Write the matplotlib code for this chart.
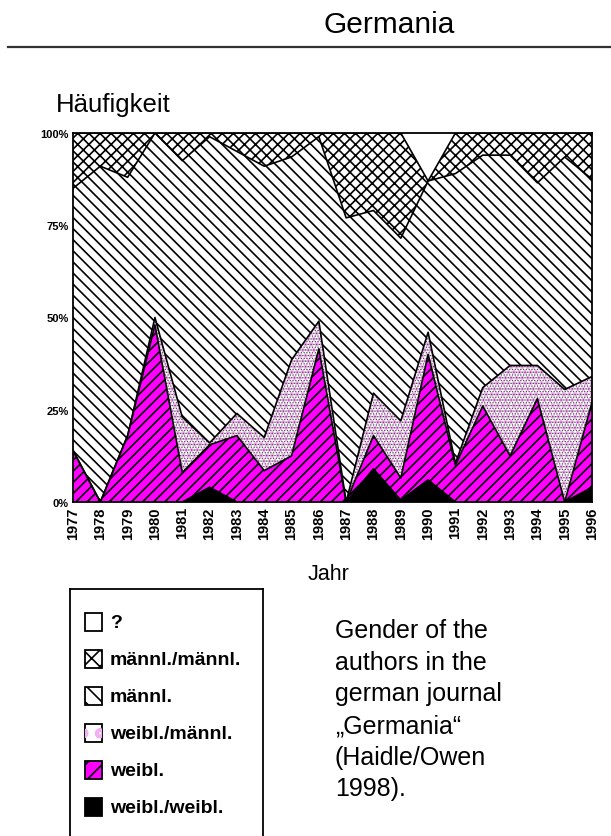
import numpy as np
import matplotlib
matplotlib.use('Agg')
import matplotlib.pyplot as plt
from matplotlib.patches import Rectangle
from matplotlib.lines import Line2D

plt.rcParams['font.family'] = ['Liberation Sans', 'DejaVu Sans']
plt.rcParams['hatch.linewidth'] = 1.2

# shares per year in percent
years = list(range(1977, 1997))
weibl_weibl = [0, 0, 0, 0, 0, 4, 0, 0, 0, 0, 0, 9, 0.5, 6, 0, 0, 0, 0, 0, 4]
weibl = [14, 0, 18, 48, 8, 11.5, 18, 8.5, 12.5, 41.5, 0, 9, 6, 34, 10, 26, 12.5, 28, 0, 23]
weibl_maennl = [0, 0, 0, 2, 15, 0.5, 6, 9, 26, 7.5, 0, 11.5, 15.5, 6, 0.5, 5, 24.5, 9, 30.5, 7]
maennl = [71, 91, 70, 50, 69.5, 83, 71, 73.5, 55, 50, 77, 49.5, 49.5, 41, 78.5, 63, 57, 49.5, 63, 53.5]
maennl_maennl = [15, 9, 12, 0, 7.5, 1, 5, 9, 6.5, 1, 23, 21, 28.5, 0, 11, 6, 6, 13.5, 6.5, 12.5]
unbekannt = [0, 0, 0, 0, 0, 0, 0, 0, 0, 0, 0, 0, 0, 13, 0, 0, 0, 0, 0, 0]

legend_labels = ['?', 'männl./männl.', 'männl.', 'weibl./männl.', 'weibl.', 'weibl./weibl.']
yticks = [0, 25, 50, 75, 100]
ytick_labels = ['0%', '25%', '50%', '75%', '100%']
note_lines = ['Gender of the', 'authors in the', 'german journal',
              '\u201eGermania\u201c', '(Haidle/Owen', '1998).']

MAGENTA = '#ff00ff'
PINK = '#f4aef4'

W, H = 611, 837
fig = plt.figure(figsize=(W / 100, H / 100), dpi=100)


def rect(x0, y0, x1, y1):
    # pixel box (top-left origin) -> figure fraction
    return [x0 / W, 1 - y1 / H, (x1 - x0) / W, (y1 - y0) / H]


def set_hlw(artist, lw):
    if hasattr(artist, 'set_hatch_linewidth'):
        artist.set_hatch_linewidth(lw)


ax = fig.add_axes(rect(73, 134, 592, 503))

layers = np.array([weibl_weibl, weibl, weibl_maennl, maennl, maennl_maennl, unbekannt], dtype=float)
top = np.cumsum(layers, axis=0)
bot = np.vstack([np.zeros(len(years)), top[:-1]])

# weibl./weibl.
ax.fill_between(years, bot[0], top[0], facecolor='black', linewidth=0)
# weibl.
ax.fill_between(years, bot[1], top[1], facecolor=MAGENTA, edgecolor='black', hatch='///', linewidth=0)
# weibl./männl. : white, pink blobs, tiny black dots
ax.fill_between(years, bot[2], top[2], facecolor='white', linewidth=0)
blobs = ax.fill_between(years, bot[2], top[2], facecolor='none', edgecolor=PINK, hatch='ooo', linewidth=0)
set_hlw(blobs, 1.2)
dots = ax.fill_between(years, bot[2], top[2], facecolor='none', edgecolor='#444444', hatch='......', linewidth=0)
set_hlw(dots, 0.6)
# männl.
ax.fill_between(years, bot[3], top[3], facecolor='white', edgecolor='black', hatch='\\\\\\', linewidth=0)
# männl./männl.
ax.fill_between(years, bot[4], top[4], facecolor='white', edgecolor='black', hatch='xxx', linewidth=0)
# ?
ax.fill_between(years, bot[5], top[5], facecolor='white', linewidth=0)

for k in range(5):
    ax.plot(years, top[k], color='black', linewidth=1.2)

ax.set_xlim(years[0], years[-1])
ax.set_ylim(0, 100)
ax.set_xticks(years)
ax.set_xticklabels([str(y) for y in years], rotation=90, fontsize=10.5, fontweight='bold')
ax.set_yticks(yticks)
ax.set_yticklabels(ytick_labels, fontsize=8, fontweight='bold')
ax.tick_params(length=0, pad=3)
for s in ax.spines.values():
    s.set_linewidth(1.3)
    s.set_color('black')

# header
fig.text(389.5 / W, 1 - 33 / H, 'Germania', ha='center', va='baseline', fontsize=21.5)
fig.add_artist(Line2D([8 / W, 1.0], [1 - 48 / H, 1 - 48 / H], color='#333333', linewidth=1.6))
fig.text(56 / W, 1 - 112 / H, 'Häufigkeit', ha='left', va='baseline', fontsize=18.5)
fig.text(328.5 / W, 1 - 580 / H, 'Jahr', ha='center', va='baseline', fontsize=15.5)

for i, line in enumerate(note_lines):
    fig.text(335 / W, 1 - (638 + 31.7 * i) / H, line, ha='left', va='baseline', fontsize=18)

# legend box (runs off the bottom of the page)
lg = fig.add_axes(rect(70, 590, 263, 850))
lg.set_xlim(0, 193)
lg.set_ylim(260, 0)
lg.set_xticks([])
lg.set_yticks([])
for s in lg.spines.values():
    s.set_linewidth(1.3)
    s.set_color('black')

styles = [
    [dict(facecolor='white', edgecolor='black')],
    [dict(facecolor='white', edgecolor='black', hatch='xx')],
    [dict(facecolor='white', edgecolor='black', hatch='\\\\')],
    [dict(facecolor='white', edgecolor='black'),
     dict(facecolor='none', edgecolor=PINK, hatch='o', linewidth=0)],
    [dict(facecolor=MAGENTA, edgecolor='black', hatch='//')],
    [dict(facecolor='black', edgecolor='black')],
]
for i, (lab, st) in enumerate(zip(legend_labels, styles)):
    yc = 33 + 37 * i
    for kw in st:
        kw.setdefault('linewidth', 1.3)
        p = lg.add_patch(Rectangle((15, yc - 9), 17, 18, **kw))
        if kw['edgecolor'] == PINK:
            set_hlw(p, 2.5)
    lg.text(40, yc + 1, lab, ha='left', va='center', fontsize=14, fontweight='bold')

fig.savefig('out.png', dpi=100)
